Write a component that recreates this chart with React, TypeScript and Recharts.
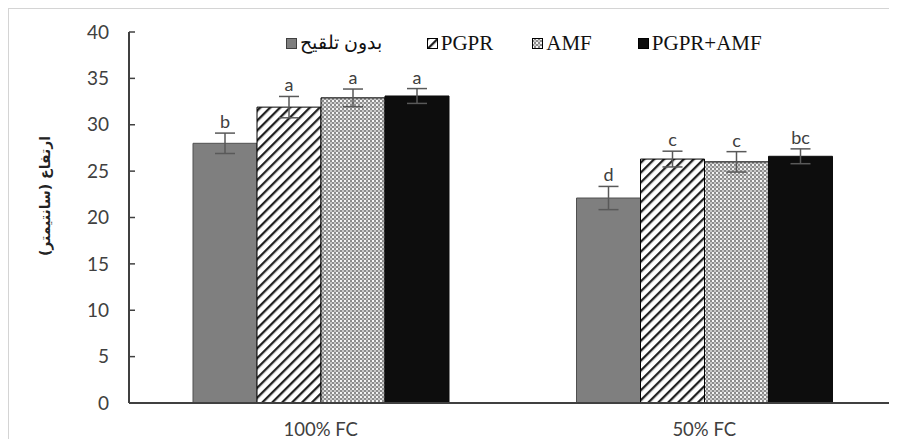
import React from 'react'
import {
  BarChart, Bar, XAxis, YAxis, ErrorBar, LabelList, Label,
} from 'recharts'

const groups = ['100% FC', '50% FC']
const seriesNames = ['بدون تلقيح', 'PGPR', 'AMF', 'PGPR+AMF']

const noInoc = [28.0, 22.1]
const noInocErr = [1.1, 1.25]
const noInocLetters = ['b', 'd']

const pgpr = [31.9, 26.3]
const pgprErr = [1.15, 0.85]
const pgprLetters = ['a', 'c']

const amf = [32.9, 26.0]
const amfErr = [0.95, 1.1]
const amfLetters = ['a', 'c']

const both = [33.1, 26.6]
const bothErr = [0.8, 0.8]
const bothLetters = ['a', 'bc']

const yTicks = [0, 5, 10, 15, 20, 25, 30, 35, 40]
const yTitle = 'ارتفاع (سانتيمتر)'

const data = groups.map((g, i) => ({
  group: g,
  s0: noInoc[i], s0e: noInocErr[i], s0l: noInocLetters[i],
  s1: pgpr[i], s1e: pgprErr[i], s1l: pgprLetters[i],
  s2: amf[i], s2e: amfErr[i], s2l: amfLetters[i],
  s3: both[i], s3e: bothErr[i], s3l: bothLetters[i],
}))

const fills = ['#7f7f7f', 'url(#stripes)', 'url(#checks)', '#0d0d0d']
const strokes = ['#505050', '#000', '#000', '#0d0d0d']
const legendGaps = [45, 39, 46, 0]

const sans = 'Lato, "Open Sans", sans-serif'

function letterLabel(key: string) {
  return (props: any) => {
    const { x, y, width, height, value, index } = props
    const row: any = data[index]
    const err = row[key + 'e']
    const pu = height / row[key]
    return (
      <text
        x={x + width / 2}
        y={y - err * pu - 5}
        textAnchor="middle"
        fontSize={18}
        fill="#404040"
        fontFamily={sans}
      >
        {value}
      </text>
    )
  }
}

function YTick(props: any) {
  const { x, y, payload } = props
  return (
    <g>
      <line x1={x} x2={x + 6} y1={y} y2={y} stroke="#404040" strokeWidth={1.5} />
      <text x={x - 20} y={y} dy="0.35em" textAnchor="end" fontSize={19} fill="#404040" fontFamily={sans}>
        {payload.value}
      </text>
    </g>
  )
}

function LegendBox() {
  return (
    <div style={{ position: 'absolute', top: 31, left: 286, display: 'flex', alignItems: 'center', fontFamily: '"Liberation Serif", "DejaVu Serif", serif', fontSize: 21, color: '#111', lineHeight: '24px', whiteSpace: 'nowrap' }}>
      {seriesNames.map((n, i) => (
        <div key={n} style={{ display: 'flex', alignItems: 'center', marginRight: legendGaps[i] }}>
          <svg width={11} height={11} style={{ marginRight: 3 }}>
            <rect x={0.5} y={0.5} width={10} height={10} fill={fills[i]} stroke={i === 0 ? '#404040' : '#000'} strokeWidth={1} />
          </svg>
          <span style={i === 0 ? { fontSize: 19 } : undefined}>{n}</span>
        </div>
      ))}
    </div>
  )
}

export default function App() {
  return (
    <div style={{ margin: -8, width: 897, height: 447, position: 'relative', overflow: 'hidden', background: '#fff' }}>
      <div style={{ position: 'absolute', left: 8, top: 8, width: 897, height: 447, borderTop: '1px solid #d4d4d4', borderLeft: '1px solid #d4d4d4' }} />
      <div style={{ position: 'absolute', left: 0, top: 0 }}>
        <BarChart
          width={897}
          height={447}
          data={data}
          margin={{ top: 32, right: 1, bottom: 0, left: 0 }}
          barCategoryGap={64}
          barGap={0}
        >
          <defs>
            <pattern id="stripes" width={7} height={7} patternUnits="userSpaceOnUse" patternTransform="rotate(45)">
              <rect width={7} height={7} fill="#fff" />
              <rect width={2.3} height={7} fill="#222" />
            </pattern>
            <pattern id="checks" width={4} height={4} patternUnits="userSpaceOnUse">
              <rect width={4} height={4} fill="#8c8c8c" />
              <rect width={2} height={2} fill="#f4f4f4" />
              <rect x={2} y={2} width={2} height={2} fill="#c8c8c8" />
            </pattern>
          </defs>
          <XAxis
            dataKey="group"
            height={44}
            tickLine={false}
            tickSize={0}
            tickMargin={20}
            axisLine={{ stroke: '#404040', strokeWidth: 2 }}
            tick={{ fontSize: 18.5, fill: '#404040', fontFamily: sans }}
          />
          <YAxis
            width={129}
            domain={[0, 40]}
            ticks={yTicks}
            interval={0}
            tickLine={false}
            tickSize={0}
            tickMargin={0}
            axisLine={{ stroke: '#404040', strokeWidth: 2 }}
            tick={<YTick />}
          >
            <Label
              content={() => (
                <text
                  transform="translate(45,196) rotate(-90)"
                  textAnchor="middle"
                  dy="0.35em"
                  fontSize={14}
                  fontWeight="bold"
                  fill="#222"
                  fontFamily='"DejaVu Sans", sans-serif'
                >
                  {yTitle}
                </text>
              )}
            />
          </YAxis>
          {['s0', 's1', 's2', 's3'].map((k, i) => (
            <Bar
              key={k}
              dataKey={k}
              name={seriesNames[i]}
              fill={fills[i]}
              stroke={strokes[i]}
              strokeWidth={1}
              isAnimationActive={false}
            >
              <ErrorBar dataKey={k + 'e'} width={10} stroke="#595959" strokeWidth={1.5} />
              <LabelList dataKey={k + 'l'} content={letterLabel(k)} />
            </Bar>
          ))}
        </BarChart>
      </div>
      <LegendBox />
    </div>
  )
}
